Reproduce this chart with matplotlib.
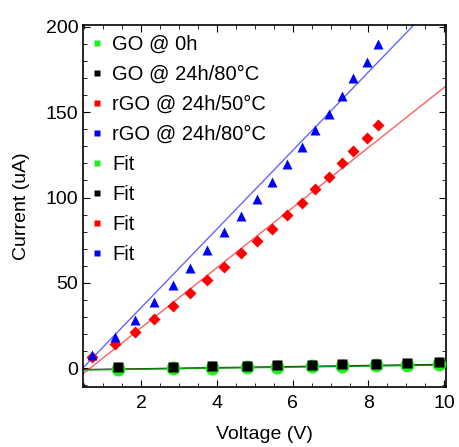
import numpy as np
import matplotlib
matplotlib.use("Agg")
import matplotlib.pyplot as plt
from matplotlib.lines import Line2D
from matplotlib.ticker import MultipleLocator

plt.rcParams['font.family'] = ['Liberation Sans', 'DejaVu Sans']

# ---- data ----
v_go = [1.39, 2.84, 3.86, 4.79, 5.6, 6.5, 7.31, 8.2, 9.02, 9.86]
i_go_0h = [-0.5, 0.0, 0.2, 0.6, 0.9, 1.2, 1.5, 1.8, 2.0, 2.3]
i_go_80 = [0.5, 1.0, 1.2, 1.5, 2.0, 2.2, 2.4, 2.7, 3.0, 3.5]

v_rgo = [0.7, 1.3, 1.85, 2.35, 2.85, 3.3, 3.75, 4.2, 4.65, 5.05, 5.45, 5.85,
         6.25, 6.6, 6.95, 7.3, 7.6, 7.95, 8.25]
i_rgo_50 = [6.4, 14, 21, 28.7, 36.3, 44, 52, 59.2, 67.4, 74.4, 81.5, 89.7,
            96.7, 104.9, 112, 120.2, 127.2, 134.8, 142.4]
i_rgo_80 = [7.6, 18.2, 28, 38.7, 48.6, 58.6, 69.2, 79.7, 89.1, 99.1, 109,
            119.6, 129.5, 139.5, 148.9, 159.4, 170, 179.4, 190]

# linear fits (slope, intercept) as drawn
fit_go_0h = (0.30, -1.1)
fit_go_80 = (0.32, -0.9)
fit_rgo_50 = (17.6, -11.5)
fit_rgo_80 = (23.0, -10.5)

labels = ['GO @ 0h', 'GO @ 24h/80°C', 'rGO @ 24h/50°C', 'rGO @ 24h/80°C',
          'Fit', 'Fit', 'Fit', 'Fit']
colors = ['#22ee22', 'black', 'red', 'blue']
fit_colors = ['#119911', '#222222', '#ff6060', '#6666ff']

fig = plt.figure(figsize=(4.59, 4.47), dpi=100)
ax = fig.add_axes([0.181, 0.134, 0.791, 0.810])

xfit = np.linspace(0.47, 10.05, 50)
fits = [fit_go_0h, fit_go_80, fit_rgo_50, fit_rgo_80]
# green fit drawn over the black one, as in the picture
for (m, b), c, z in zip(fits, fit_colors, [2.5, 2, 2, 2]):
    ax.plot(xfit, m * xfit + b, color=c, lw=1.0, zorder=z)

ax.plot(v_go, i_go_0h, 'o', color=colors[0], ms=10, mec='none', zorder=3)
ax.plot(v_go, i_go_80, 's', color=colors[1], ms=6.5, mec='none', zorder=4)
ax.plot(v_rgo, i_rgo_50, 'D', color=colors[2], ms=6.5, mec='none', zorder=3)
ax.plot(v_rgo, i_rgo_80, '^', color=colors[3], ms=7.5, mec='none', zorder=3)

ax.set_xlim(0.47, 10.05)
ax.set_ylim(-11, 201)
ax.xaxis.set_major_locator(MultipleLocator(2))
ax.xaxis.set_minor_locator(MultipleLocator(0.5))
ax.yaxis.set_major_locator(MultipleLocator(50))
ax.yaxis.set_minor_locator(MultipleLocator(10))
ax.tick_params(which='both', direction='in', top=True, right=True, labelsize=14)
ax.tick_params(axis='x', pad=6)
ax.tick_params(which='major', length=5)
ax.tick_params(which='minor', length=3)
for s in ax.spines.values():
    s.set_linewidth(1.2)

ax.set_xlabel('Voltage (V)', fontsize=14, labelpad=10)
ax.set_ylabel('Current (uA)', fontsize=14, labelpad=11)

handles = [Line2D([], [], ls='none', marker='s', ms=4.5, color=c, mec='none')
           for c in colors + colors]
ax.legend(handles, labels, loc='upper left', frameon=False, fontsize=14.5,
          handlelength=0.6, handletextpad=0.45, labelspacing=0.55,
          borderaxespad=0.0, bbox_to_anchor=(0.0, 0.995))

fig.savefig('out.png', dpi=100)
